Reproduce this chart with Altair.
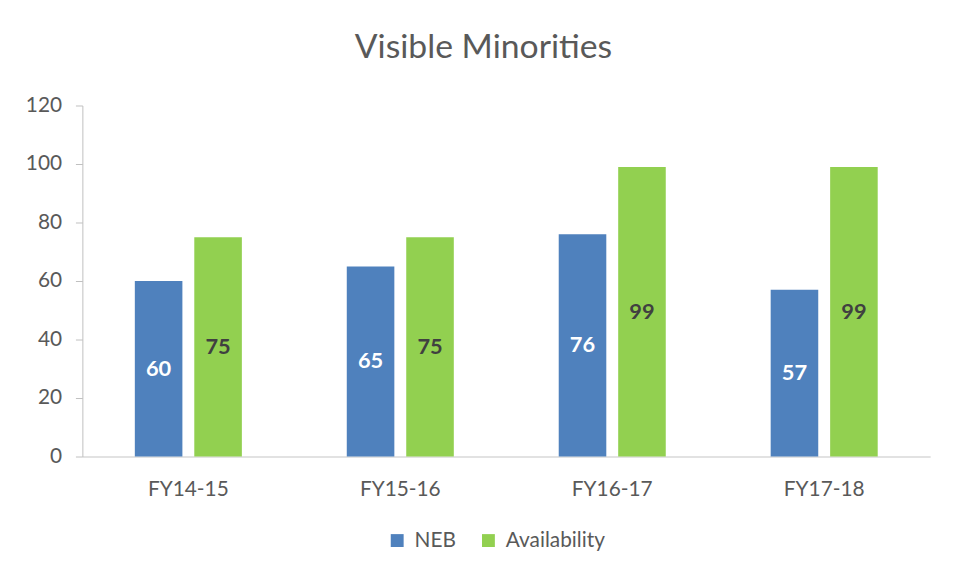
import altair as alt
import pandas as pd

years = ["FY14-15", "FY15-16", "FY16-17", "FY17-18"]
neb = [60, 65, 76, 57]
availability = [75, 75, 99, 99]
series_names = ["NEB", "Availability"]
series_colors = ["#4F81BD", "#92D050"]
y_ticks = [0, 20, 40, 60, 80, 100, 120]

rows = []
for i, yr in enumerate(years):
    rows.append({"year": yr, "series": "NEB", "value": neb[i]})
    rows.append({"year": yr, "series": "Availability", "value": availability[i]})
df = pd.DataFrame(rows)

FONT = "Lato"
GRAY = "#595959"

x_enc = alt.X("year:N", sort=years, title=None,
              scale=alt.Scale(paddingInner=0.495, paddingOuter=0.2475),
              axis=alt.Axis(labelAngle=0, ticks=False, domainColor="#D9D9D9",
                            domainWidth=1.5, labelPadding=22, labelFontSize=21,
                            labelColor=GRAY, labelFont=FONT))
xoff_enc = alt.XOffset("series:N", sort=series_names,
                       scale=alt.Scale(paddingInner=0.2, paddingOuter=0))

base = alt.Chart(df)

bars = base.mark_bar().encode(
    x=x_enc,
    xOffset=xoff_enc,
    y=alt.Y("value:Q", title=None,
            scale=alt.Scale(domain=[0, 120], nice=False),
            axis=alt.Axis(values=y_ticks, grid=False, domainColor="#BFBFBF",
                          tickColor="#BFBFBF", tickSize=7, labelPadding=14,
                          labelFontSize=21, labelColor=GRAY, labelFont=FONT)),
    color=alt.Color("series:N", sort=series_names,
                    scale=alt.Scale(domain=series_names, range=series_colors),
                    legend=alt.Legend(title=None, orient="none", direction="horizontal",
                                      legendX=307, legendY=428, symbolType="square",
                                      symbolSize=169, symbolStrokeWidth=0,
                                      labelFontSize=21, labelColor=GRAY, labelFont=FONT,
                                      labelOffset=7, columnPadding=22)),
)

labels = base.transform_calculate(mid="datum.value / 2").mark_text(
    fontSize=22, fontWeight="bold", font=FONT, baseline="middle", align="center"
).encode(
    x=alt.X("year:N", sort=years),
    xOffset=xoff_enc,
    y=alt.Y("mid:Q"),
    text=alt.Text("value:Q"),
    color=alt.condition(alt.datum.series == "NEB", alt.value("white"), alt.value("#404040")),
)

chart = alt.layer(bars, labels).properties(
    width=855, height=354,
    title=alt.Title("Visible Minorities", fontSize=34, font=FONT, fontWeight="normal",
                    color=GRAY, anchor="middle", dx=-23, offset=30),
    padding={"left": 75, "top": 96, "right": 20, "bottom": 100},
    autosize=alt.AutoSizeParams(type="none"),
).configure_view(stroke=None)

chart.save("out.html", embed_options={"renderer": "svg", "actions": False})
